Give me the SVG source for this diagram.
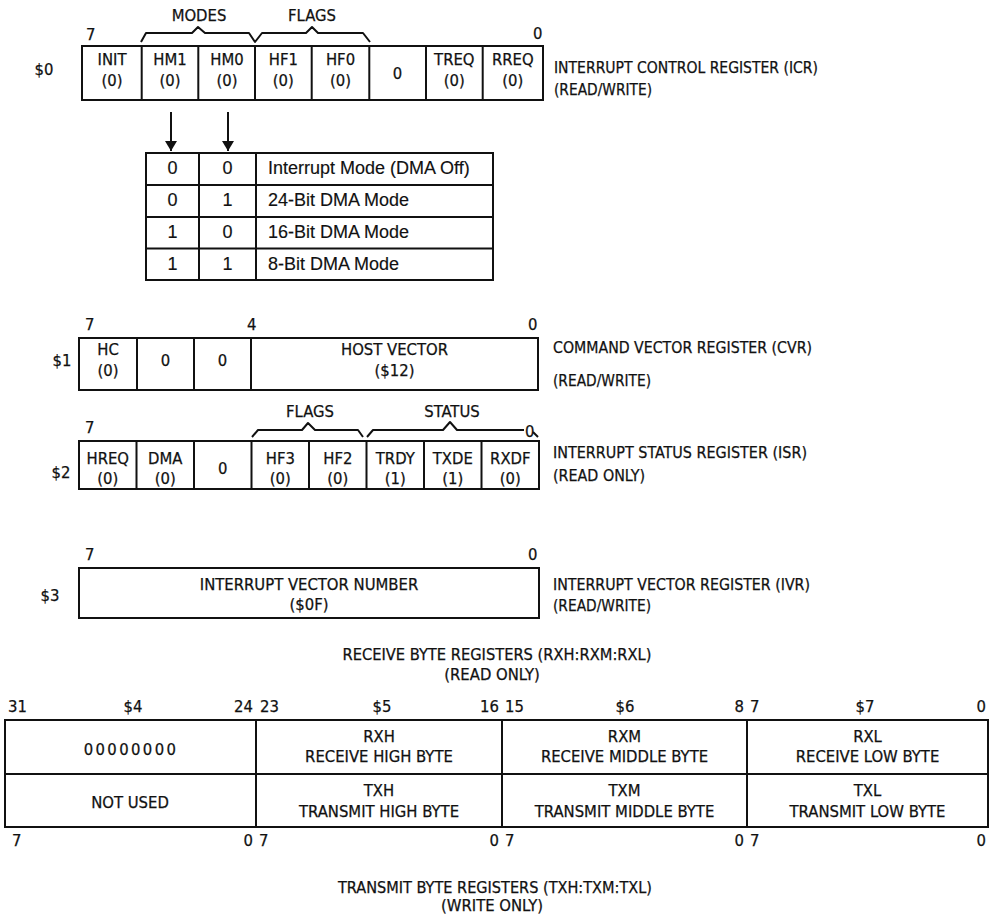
<svg xmlns="http://www.w3.org/2000/svg" width="989" height="915" viewBox="0 0 989 915">
<style>
text{font-family:'Liberation Sans Narrow','Arial Narrow','DejaVu Sans Condensed','Liberation Sans',sans-serif;font-size:16.5px;fill:#111;stroke:#111;stroke-width:0.25px}
.c{text-anchor:middle}
.e{text-anchor:end}
.m{font-family:'Liberation Sans',Arial,sans-serif;font-size:18px;stroke-width:0.15px}
.box{fill:#fff;stroke:#111;stroke-width:2}
.ln{stroke:#111;stroke-width:2;fill:none}
.br{stroke:#111;stroke-width:2;fill:none;stroke-linejoin:round}
</style>
<defs>
<marker id="ah" viewBox="0 0 10 12" refX="10" refY="6" markerWidth="10" markerHeight="12" markerUnits="userSpaceOnUse" orient="auto">
<path d="M0,0 L10,6 L0,12 Z" fill="#111"/>
</marker>
</defs>
<rect width="989" height="915" fill="#fff"/>

<!-- ICR -->
<g id="icr">
<text x="86" y="40">7</text>
<text x="533" y="39">0</text>
<text class="c" x="199" y="21">MODES</text>
<text class="c" x="312" y="21">FLAGS</text>
<path class="br" d="M141,42 L146,33 L192,33 L198,27 L205,33 L249,33 L255,42 L262,33 L306,33 L312,27 L318,33 L363,33 L370,42"/>
<text class="c" x="44" y="75">$0</text>
<rect class="box" x="82" y="46" width="461" height="54"/>
<path class="ln" d="M141.7,46V100 M198.3,46V100 M255,46V100 M311.7,46V100 M369.3,46V100 M426,46V100 M482.7,46V100"/>
<text class="c" x="112" y="65">INIT</text><text class="c" x="112" y="86">(0)</text>
<text class="c" x="170" y="65">HM1</text><text class="c" x="170" y="86">(0)</text>
<text class="c" x="227" y="65">HM0</text><text class="c" x="227" y="86">(0)</text>
<text class="c" x="283.3" y="65">HF1</text><text class="c" x="283.3" y="86">(0)</text>
<text class="c" x="340.5" y="65">HF0</text><text class="c" x="340.5" y="86">(0)</text>
<text class="c" x="397.6" y="79">0</text>
<text class="c" x="454.3" y="65">TREQ</text><text class="c" x="454.3" y="86">(0)</text>
<text class="c" x="512.8" y="65">RREQ</text><text class="c" x="512.8" y="86">(0)</text>
<text x="554" y="73" textLength="264" lengthAdjust="spacingAndGlyphs">INTERRUPT CONTROL REGISTER (ICR)</text>
<text x="554" y="95" textLength="98" lengthAdjust="spacingAndGlyphs">(READ/WRITE)</text>
</g>

<!-- connectors -->
<g id="connectors">
<line class="ln" x1="171" y1="112" x2="171" y2="151" marker-end="url(#ah)"/>
<line class="ln" x1="228" y1="112" x2="228" y2="151" marker-end="url(#ah)"/>
</g>

<!-- mode table -->
<g id="mode-table">
<rect class="box" x="146" y="153" width="347" height="127"/>
<path class="ln" d="M199,153V280 M256,153V280 M146,185H493 M146,217H493 M146,248.5H493"/>
<text class="m c" x="172.5" y="174">0</text><text class="m c" x="227.5" y="174">0</text><text class="m" x="268" y="174">Interrupt Mode (DMA Off)</text>
<text class="m c" x="172.5" y="206">0</text><text class="m c" x="227.5" y="206">1</text><text class="m" x="268" y="206">24-Bit DMA Mode</text>
<text class="m c" x="172.5" y="238">1</text><text class="m c" x="227.5" y="238">0</text><text class="m" x="268" y="238">16-Bit DMA Mode</text>
<text class="m c" x="172.5" y="270">1</text><text class="m c" x="227.5" y="270">1</text><text class="m" x="268" y="270">8-Bit DMA Mode</text>
</g>

<!-- CVR -->
<g id="cvr">
<text x="85" y="330">7</text>
<text x="247" y="330">4</text>
<text x="528" y="330">0</text>
<text class="c" x="62" y="366">$1</text>
<rect class="box" x="79" y="338" width="459" height="52"/>
<path class="ln" d="M137,338V390 M194,338V390 M251,338V390"/>
<text class="c" x="108" y="355">HC</text><text class="c" x="108" y="376">(0)</text>
<text class="c" x="165.5" y="366">0</text>
<text class="c" x="222.5" y="366">0</text>
<text class="c" x="394.5" y="355">HOST VECTOR</text><text class="c" x="394.5" y="376">($12)</text>
<text x="553" y="353" textLength="259" lengthAdjust="spacingAndGlyphs">COMMAND VECTOR REGISTER (CVR)</text>
<text x="553" y="386" textLength="98" lengthAdjust="spacingAndGlyphs">(READ/WRITE)</text>
</g>

<!-- ISR -->
<g id="isr">
<text class="c" x="310" y="417">FLAGS</text>
<text class="c" x="452" y="417">STATUS</text>
<path class="br" d="M252,437 L258,430 L302,430 L308,423 L315,430 L358,430 L363,437 M367,437 L373,430 L443,430 L450,422 L457,430 L524,430"/>
<path class="ln" d="M533,432 L538,437" stroke-width="1.5"/>
<text x="85" y="433">7</text>
<text x="525" y="437">0</text>
<text class="c" x="61" y="478">$2</text>
<rect class="box" x="79" y="441" width="460" height="48"/>
<path class="ln" d="M136.5,441V489 M194,441V489 M251.5,441V489 M309,441V489 M366.5,441V489 M424,441V489 M481.5,441V489"/>
<text class="c" x="107.8" y="464">HREQ</text><text class="c" x="107.8" y="484">(0)</text>
<text class="c" x="165.3" y="464">DMA</text><text class="c" x="165.3" y="484">(0)</text>
<text class="c" x="222.8" y="474">0</text>
<text class="c" x="280.3" y="464">HF3</text><text class="c" x="280.3" y="484">(0)</text>
<text class="c" x="337.8" y="464">HF2</text><text class="c" x="337.8" y="484">(0)</text>
<text class="c" x="395.3" y="464">TRDY</text><text class="c" x="395.3" y="484">(1)</text>
<text class="c" x="452.8" y="464">TXDE</text><text class="c" x="452.8" y="484">(1)</text>
<text class="c" x="510.3" y="464">RXDF</text><text class="c" x="510.3" y="484">(0)</text>
<text x="553" y="458" textLength="254" lengthAdjust="spacingAndGlyphs">INTERRUPT STATUS REGISTER (ISR)</text>
<text x="553" y="481" textLength="92" lengthAdjust="spacingAndGlyphs">(READ ONLY)</text>
</g>

<!-- IVR -->
<g id="ivr">
<text x="85" y="560">7</text>
<text x="528" y="560">0</text>
<text class="c" x="50" y="601">$3</text>
<rect class="box" x="79" y="568" width="460" height="50"/>
<text class="c" x="309" y="590">INTERRUPT VECTOR NUMBER</text>
<text class="c" x="309" y="610">($0F)</text>
<text x="553" y="590" textLength="257" lengthAdjust="spacingAndGlyphs">INTERRUPT VECTOR REGISTER (IVR)</text>
<text x="553" y="611" textLength="98" lengthAdjust="spacingAndGlyphs">(READ/WRITE)</text>
</g>

<!-- byte registers -->
<g id="byte-registers">
<text class="c" x="497" y="660" textLength="309" lengthAdjust="spacingAndGlyphs">RECEIVE BYTE REGISTERS (RXH:RXM:RXL)</text>
<text class="c" x="492" y="680">(READ ONLY)</text>
<text x="8" y="712">31</text>
<text class="c" x="133" y="712">$4</text>
<text class="e" x="253" y="712">24</text>
<text x="260" y="712">23</text>
<text class="c" x="382" y="712">$5</text>
<text class="e" x="499" y="712">16</text>
<text x="505" y="712">15</text>
<text class="c" x="625" y="712">$6</text>
<text class="e" x="744" y="712">8</text>
<text x="750" y="712">7</text>
<text class="c" x="865" y="712">$7</text>
<text class="e" x="986" y="712">0</text>
<rect class="box" x="5" y="720" width="983" height="107"/>
<path class="ln" d="M256,720V827 M502,720V827 M747,720V827 M5,774H988"/>
<text class="c" x="131" y="755" letter-spacing="2.4">00000000</text>
<text class="c" x="379" y="742">RXH</text><text class="c" x="379" y="762">RECEIVE HIGH BYTE</text>
<text class="c" x="624.5" y="742">RXM</text><text class="c" x="624.5" y="762">RECEIVE MIDDLE BYTE</text>
<text class="c" x="867.5" y="742">RXL</text><text class="c" x="867.5" y="762">RECEIVE LOW BYTE</text>
<text class="c" x="130" y="808">NOT USED</text>
<text class="c" x="379" y="796">TXH</text><text class="c" x="379" y="817">TRANSMIT HIGH BYTE</text>
<text class="c" x="624.5" y="796">TXM</text><text class="c" x="624.5" y="817">TRANSMIT MIDDLE BYTE</text>
<text class="c" x="867.5" y="796">TXL</text><text class="c" x="867.5" y="817">TRANSMIT LOW BYTE</text>
<text x="12" y="846">7</text>
<text class="e" x="253" y="846">0</text><text x="259" y="846">7</text>
<text class="e" x="499" y="846">0</text><text x="505" y="846">7</text>
<text class="e" x="744" y="846">0</text><text x="750" y="846">7</text>
<text class="e" x="986" y="846">0</text>
<text class="c" x="495" y="893" textLength="314" lengthAdjust="spacingAndGlyphs">TRANSMIT BYTE REGISTERS (TXH:TXM:TXL)</text>
<text class="c" x="492" y="911">(WRITE ONLY)</text>
</g>
</svg>
